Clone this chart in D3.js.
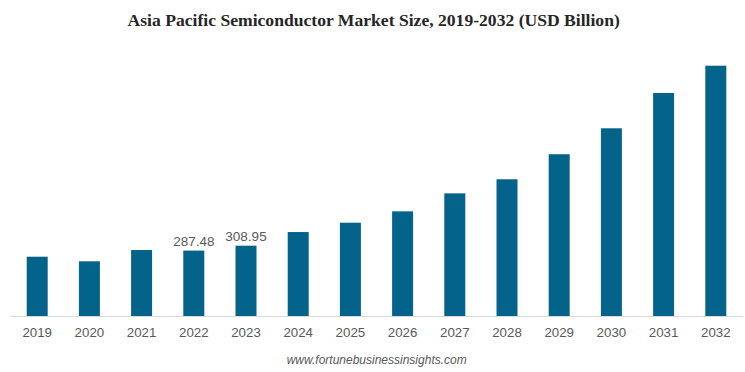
<!DOCTYPE html>
<html>
<head>
<meta charset="utf-8">
<script src="https://cdn.jsdelivr.net/npm/d3@7"></script>
<style>
  body { margin: 0; background: #fff; }
  svg { display: block; }
</style>
</head>
<body>
<script>
// chart data
years = ["2019", "2020", "2021", "2022", "2023", "2024", "2025", "2026", "2027", "2028", "2029", "2030", "2031", "2032"];
values = [260.6, 240.4, 290.0, 287.48, 308.95, 369.0, 410.0, 460.0, 539.0, 601.0, 711.0, 825.0, 980.0, 1100.0];
labelled = ["2022", "2023"];
title = "Asia Pacific Semiconductor Market Size, 2019-2032 (USD Billion)";
source = "www.fortunebusinessinsights.com";

W = 745; H = 372;
baseY = 316;

svg = d3.select("body").append("svg").attr("width", W).attr("height", H);

x = d3.scaleBand().domain(years).range([11.1, 741.9]).paddingInner(0.598).paddingOuter(0.299);
y = d3.scaleLinear().domain([0, 1150]).range([baseY, baseY - 1150 / 4.395]);

svg.append("text")
    .attr("x", 373.7).attr("y", 26)
    .attr("text-anchor", "middle")
    .style("font-family", "'Liberation Serif', 'Times New Roman', serif")
    .style("font-weight", "bold")
    .style("font-size", "17.6px")
    .style("fill", "#262626")
    .text(title);

svg.selectAll("rect.bar").data(years).enter().append("rect")
    .attr("class", "bar")
    .attr("x", (d) => x(d))
    .attr("y", (d, i) => y(values[i]))
    .attr("width", x.bandwidth())
    .attr("height", (d, i) => baseY - y(values[i]))
    .style("fill", "#04638a");

// baseline
axis = svg.append("g").attr("transform", "translate(0," + baseY + ")")
    .call(d3.axisBottom(x).tickSize(0).tickPadding(12));
axis.select(".domain").attr("d", "M10,0.5H743").attr("stroke", "#d9d9d9").attr("stroke-width", 1.2);
axis.selectAll("text")
    .style("font-family", "'Liberation Sans', Arial, sans-serif")
    .style("font-size", "13.3px")
    .style("fill", "#595959");

svg.selectAll("text.val").data(years.filter((d) => labelled.includes(d))).enter().append("text")
    .attr("class", "val")
    .attr("x", (d) => x(d) + x.bandwidth() / 2)
    .attr("y", (d) => y(values[years.indexOf(d)]) - 5)
    .attr("text-anchor", "middle")
    .style("font-family", "'Liberation Sans', Arial, sans-serif")
    .style("font-size", "13.5px")
    .style("fill", "#595959")
    .text((d) => values[years.indexOf(d)].toFixed(2));

svg.append("text")
    .attr("x", 376.7).attr("y", 364)
    .attr("text-anchor", "middle")
    .style("font-family", "'Liberation Sans', Arial, sans-serif")
    .style("font-style", "italic")
    .style("font-size", "12px")
    .style("fill", "#595959")
    .text(source);
</script>
</body>
</html>
